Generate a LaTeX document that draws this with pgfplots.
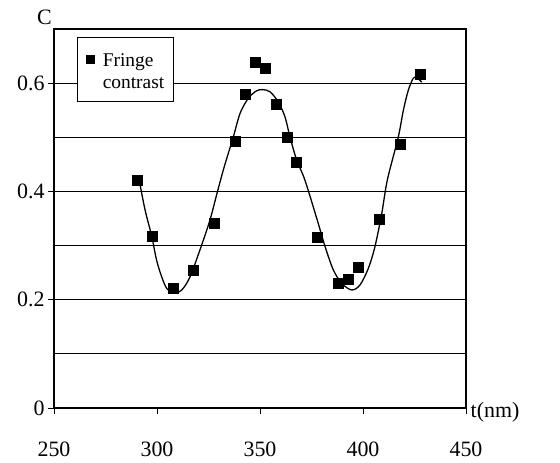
\documentclass[border=0pt]{standalone}
\usepackage{pgfplots}
\pgfplotsset{compat=1.18}
\usepackage{fontspec}
\setmainfont{Liberation Serif}
\begin{document}
\begin{tikzpicture}
\path (-54bp,-55bp) rectangle (506bp,408bp);
\begin{axis}[
  at={(0,0)}, anchor=south west,
  scale only axis, width=412bp, height=379bp,
  xmin=250, xmax=450, ymin=0, ymax=0.7,
  xtick={250,300,350,400,450},
  ytick={0,0.2,0.4,0.6},
  minor ytick={0.1,0.3,0.5},
  ymajorgrids, yminorgrids,
  major grid style={black, line width=0.8pt},
  minor grid style={black, line width=0.8pt},
  tick align=outside,
  xtick pos=bottom, ytick pos=left,
  major tick length=6bp,
  minor tick length=0pt,
  tick style={black, line width=1pt},
  axis line style={line width=1.2pt},
  /pgf/number format/assume math mode=true,
  tick label style={font=\fontsize{22}{26}\selectfont},
  xticklabel style={yshift=-24bp},
  legend style={at={(axis description cs:0.0558,0.979)}, anchor=north west,
    draw=black, line width=0.8pt, inner xsep=9bp, inner ysep=10bp,
    font=\fontsize{19.5}{22}\selectfont,
    nodes={inner sep=0pt, text height=19bp, text depth=3bp}, row sep=0bp},
  legend cell align=left,
]
\addplot[black, line width=1.3pt, smooth, tension=0.5, forget plot] coordinates {
(290.9,0.430) (294.2,0.366) (297.4,0.318) (299.8,0.273) (302.3,0.242)
(304.7,0.221) (307.9,0.212) (312.0,0.218) (316.0,0.242) (321.4,0.298)
(325.7,0.347) (329.3,0.399) (332.6,0.445) (337.0,0.500) (340.3,0.544)
(344.3,0.572) (348.4,0.586) (351.3,0.588) (354.9,0.584) (358.9,0.565)
(362.1,0.538) (364.6,0.500) (367.8,0.458) (371.8,0.421) (377.8,0.347)
(381.6,0.298) (385.6,0.255) (389.7,0.230) (394.5,0.218) (398.5,0.227)
(402.6,0.258) (405.8,0.298) (409.1,0.359) (411.8,0.421)
(417.1,0.500) (419.6,0.550) (422.0,0.587) (424.4,0.609) (426.1,0.610)
(428.5,0.602)
};
\addplot[only marks, mark=square*, mark size=5bp, black,
  legend image code/.code={\fill[black] (0bp,-5bp) rectangle (8bp,3bp); \path[draw=none,fill=none] (0bp,0bp) rectangle (16bp,0.1bp);}]
coordinates {
(290.6,0.421) (297.9,0.318) (307.9,0.221) (317.6,0.255) (327.8,0.341)
(337.9,0.492) (342.7,0.579) (347.6,0.639) (352.4,0.628) (358.1,0.561)
(363.0,0.501) (367.8,0.454) (377.8,0.315) (388.2,0.230) (392.9,0.238)
(397.7,0.260) (407.8,0.348) (418.0,0.487) (428.0,0.616)
};
\addlegendentry{Fringe}
\addlegendimage{empty legend}
\addlegendentry{contrast}
\end{axis}
\node[anchor=base east, inner sep=0pt, font=\fontsize{22}{26}\selectfont] at (-2bp,383bp) {C};
\node[anchor=west, inner sep=0pt, font=\fontsize{22}{26}\selectfont] at (416.5bp,-4bp) {t(nm)};
\end{tikzpicture}
\end{document}
